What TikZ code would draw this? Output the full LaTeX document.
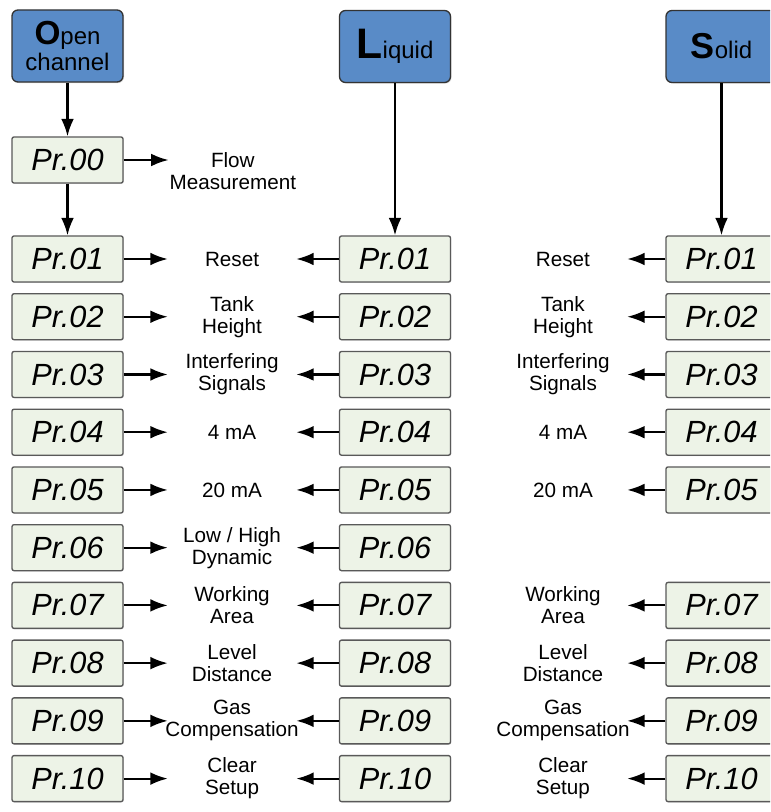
\documentclass[tikz,border=0pt]{standalone}
\usepackage{fontspec}
\setmainfont{Liberation Sans}
\usepackage{tikz}
\usetikzlibrary{positioning}
\usetikzlibrary{arrows.meta,shadows}

\definecolor{headblue}{RGB}{89,139,199}
\definecolor{lcdgreen}{RGB}{237,243,231}

\begin{document}
\begin{tikzpicture}[x=0.75pt,y=-0.75pt,node distance=43.3pt,on grid]

	\tikzstyle{head}=[rectangle,rounded corners=4.5pt,draw=black!80,line width=1pt,fill=headblue,
	minimum width=83.25pt,minimum height=54pt,inner sep=0pt,align=center,
	font=\fontsize{18}{20}\selectfont,drop shadow={shadow xshift=0.8pt,shadow yshift=-0.8pt,opacity=0.3}]
	\tikzstyle{display}=[rectangle,rounded corners=1.5pt,draw=black!65,line width=1pt,fill=lcdgreen,
	minimum width=83.25pt,minimum height=34.5pt,inner sep=0pt,
	font=\fontsize{23}{23}\selectfont\itshape,drop shadow={shadow xshift=0.6pt,shadow yshift=-0.6pt,opacity=0.25}]
	\tikzstyle{caption}=[rectangle,minimum width=96pt,inner sep=0pt,align=center,
	font=\fontsize{15.5}{16.5}\selectfont]
	\tikzstyle{flow}=[line width=1.6pt,-{Latex[length=13pt,width=9.5pt]}]

	\useasboundingbox (0,0) rectangle (770,812);
	\clip (0,0) rectangle (770,812);

	% headers
	\node [head] (open) at (67.5,46) {{\fontsize{25}{25}\selectfont\bfseries O}pen\\channel};
	\node [head] (liquid) at (395,46.5) {{\fontsize{32}{32}\selectfont\bfseries L}iquid};
	\node [head] (solid) at (721.5,46.5) {{\fontsize{27}{27}\selectfont\bfseries S}olid};

	% open channel
	\node [display] (o00) at (67.5,160) {Pr.00};
	\node [caption,yshift=-8.25pt] (flow) [right of=o00,node distance=124pt] {Flow\\Measurement};
	\draw[flow] (open) -- (o00);
	\draw[flow] (o00) -- (o00 -| flow.west);
	\node [display,node distance=74.25pt] (o01) [below of=o00] {Pr.01};
	\draw[flow] (o00) -- (o01);
	\node [display] (o02) [below of=o01] {Pr.02};
	\node [display] (o03) [below of=o02] {Pr.03};
	\node [display] (o04) [below of=o03] {Pr.04};
	\node [display] (o05) [below of=o04] {Pr.05};
	\node [display] (o06) [below of=o05] {Pr.06};
	\node [display] (o07) [below of=o06] {Pr.07};
	\node [display] (o08) [below of=o07] {Pr.08};
	\node [display] (o09) [below of=o08] {Pr.09};
	\node [display] (o10) [below of=o09] {Pr.10};

	% liquid
	\node [display] (l01) at (liquid |- o01) {Pr.01};
	\draw[flow] (liquid) -- (l01);
	\node [display] (l02) [below of=l01] {Pr.02};
	\node [display] (l03) [below of=l02] {Pr.03};
	\node [display] (l04) [below of=l03] {Pr.04};
	\node [display] (l05) [below of=l04] {Pr.05};
	\node [display] (l06) [below of=l05] {Pr.06};
	\node [display] (l07) [below of=l06] {Pr.07};
	\node [display] (l08) [below of=l07] {Pr.08};
	\node [display] (l09) [below of=l08] {Pr.09};
	\node [display] (l10) [below of=l09] {Pr.10};

	% solid
	\node [display] (s01) at (solid |- o01) {Pr.01};
	\draw[flow] (solid) -- (s01);
	\node [display] (s02) [below of=s01] {Pr.02};
	\node [display] (s03) [below of=s02] {Pr.03};
	\node [display] (s04) [below of=s03] {Pr.04};
	\node [display] (s05) [below of=s04] {Pr.05};
	\node [display,node distance=86.6pt] (s07) [below of=s05] {Pr.07};
	\node [display] (s08) [below of=s07] {Pr.08};
	\node [display] (s09) [below of=s08] {Pr.09};
	\node [display] (s10) [below of=s09] {Pr.10};

	% shared parameters
	\node [caption,node distance=123.4pt] (reset1) [right of=o01] {Reset};
	\node [caption,node distance=123.4pt] (tank1) [right of=o02] {Tank\\Height};
	\node [caption,node distance=123.4pt] (noise1) [right of=o03] {Interfering\\Signals};
	\node [caption,node distance=123.4pt] (low1) [right of=o04] {4 mA};
	\node [caption,node distance=123.4pt] (high1) [right of=o05] {20 mA};
	\node [caption,node distance=123.4pt] (dyn1) [right of=o06] {Low / High\\Dynamic};
	\node [caption,node distance=123.4pt] (area1) [right of=o07] {Working\\Area};
	\node [caption,node distance=123.4pt] (dist1) [right of=o08] {Level\\Distance};
	\node [caption,node distance=123.4pt] (gas1) [right of=o09] {Gas\\\makebox[0pt]{Compensation}};
	\node [caption,node distance=123.4pt] (clear1) [right of=o10] {Clear\\Setup};

	\draw[flow] (o01) -- (reset1);
	\draw[flow] (o02) -- (tank1);
	\draw[flow] (o03) -- (noise1);
	\draw[flow] (o04) -- (low1);
	\draw[flow] (o05) -- (high1);
	\draw[flow] (o06) -- (dyn1);
	\draw[flow] (o07) -- (area1);
	\draw[flow] (o08) -- (dist1);
	\draw[flow] (o09) -- (gas1);
	\draw[flow] (o10) -- (clear1);

	\draw[flow] (l01) -- (reset1);
	\draw[flow] (l02) -- (tank1);
	\draw[flow] (l03) -- (noise1);
	\draw[flow] (l04) -- (low1);
	\draw[flow] (l05) -- (high1);
	\draw[flow] (l06) -- (dyn1);
	\draw[flow] (l07) -- (area1);
	\draw[flow] (l08) -- (dist1);
	\draw[flow] (l09) -- (gas1);
	\draw[flow] (l10) -- (clear1);

	% solid parameters
	\node [caption,node distance=118.9pt] (reset2) [left of=s01] {Reset};
	\node [caption,node distance=118.9pt] (tank2) [left of=s02] {Tank\\Height};
	\node [caption,node distance=118.9pt] (noise2) [left of=s03] {Interfering\\Signals};
	\node [caption,node distance=118.9pt] (low2) [left of=s04] {4 mA};
	\node [caption,node distance=118.9pt] (high2) [left of=s05] {20 mA};
	\node [caption,node distance=118.9pt] (area2) [left of=s07] {Working\\Area};
	\node [caption,node distance=118.9pt] (dist2) [left of=s08] {Level\\Distance};
	\node [caption,node distance=118.9pt] (gas2) [left of=s09] {Gas\\\makebox[0pt]{Compensation}};
	\node [caption,node distance=118.9pt] (clear2) [left of=s10] {Clear\\Setup};

	\draw[flow] (s01) -- (reset2);
	\draw[flow] (s02) -- (tank2);
	\draw[flow] (s03) -- (noise2);
	\draw[flow] (s04) -- (low2);
	\draw[flow] (s05) -- (high2);
	\draw[flow] (s07) -- (area2);
	\draw[flow] (s08) -- (dist2);
	\draw[flow] (s09) -- (gas2);
	\draw[flow] (s10) -- (clear2);

\end{tikzpicture}
\end{document}
